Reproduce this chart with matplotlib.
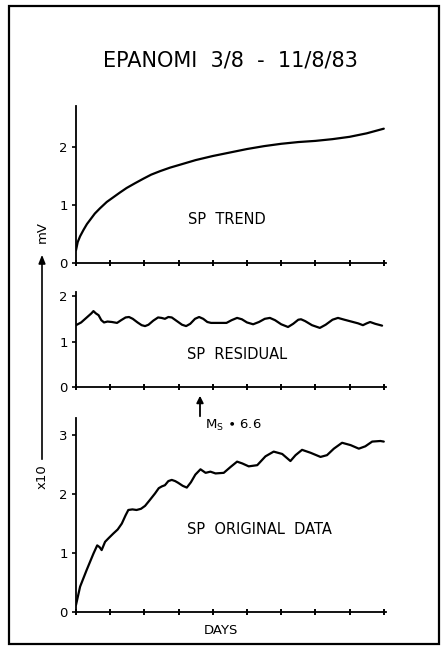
import matplotlib
matplotlib.use("Agg")
import matplotlib.pyplot as plt
from matplotlib.patches import Rectangle, FancyArrowPatch

# ---------------- data ----------------
title_text = "EPANOMI  3/8  -  11/8/83"
day_ticks = [0, 1, 2, 3, 4, 5, 6, 7, 8, 9]

trend_days = [0.0, 0.05, 0.12, 0.22, 0.32, 0.41, 0.55, 0.70, 0.90, 1.09, 1.28,
              1.48, 1.72, 1.97, 2.20, 2.46, 2.75, 3.04, 3.5, 4.0, 4.5, 5.0,
              5.5, 6.0, 6.5, 7.0, 7.5, 8.0, 8.5, 9.0]
trend_vals = [0.22, 0.36, 0.46, 0.57, 0.67, 0.74, 0.85, 0.94, 1.05, 1.13, 1.21,
              1.29, 1.37, 1.45, 1.52, 1.58, 1.64, 1.69, 1.77, 1.84, 1.90, 1.96,
              2.01, 2.05, 2.08, 2.10, 2.13, 2.17, 2.23, 2.31]

resid_days = [0.0, 0.15, 0.30, 0.45, 0.51, 0.58, 0.66, 0.74, 0.82, 0.92, 1.05,
              1.20, 1.32, 1.45, 1.55, 1.66, 1.80, 1.92, 2.02, 2.12, 2.26, 2.40,
              2.50, 2.60, 2.70, 2.80, 2.95, 3.10, 3.22, 3.34, 3.48, 3.60, 3.72,
              3.84, 3.95, 4.20, 4.40, 4.55, 4.71, 4.85, 5.00, 5.18, 5.35, 5.52,
              5.67, 5.82, 6.00, 6.20, 6.35, 6.50, 6.58, 6.70, 6.90, 7.13, 7.30,
              7.50, 7.66, 7.85, 8.10, 8.25, 8.39, 8.50, 8.60, 8.75, 8.95]
resid_vals = [1.36, 1.42, 1.52, 1.62, 1.67, 1.62, 1.58, 1.47, 1.42, 1.44, 1.43,
              1.41, 1.47, 1.53, 1.54, 1.50, 1.42, 1.36, 1.34, 1.37, 1.46, 1.53,
              1.52, 1.50, 1.54, 1.53, 1.45, 1.37, 1.34, 1.39, 1.50, 1.54, 1.50,
              1.43, 1.41, 1.41, 1.41, 1.47, 1.52, 1.49, 1.42, 1.38, 1.43, 1.50,
              1.52, 1.47, 1.38, 1.32, 1.39, 1.48, 1.49, 1.45, 1.36, 1.30, 1.37,
              1.48, 1.52, 1.48, 1.43, 1.40, 1.36, 1.40, 1.43, 1.39, 1.35]

orig_days = [0.0, 0.12, 0.31, 0.51, 0.62, 0.69, 0.75, 0.85, 0.95, 1.09, 1.22,
             1.34, 1.45, 1.53, 1.65, 1.77, 1.90, 2.02, 2.16, 2.31, 2.42, 2.51,
             2.60, 2.70, 2.80, 2.90, 2.99, 3.12, 3.24, 3.36, 3.49, 3.64, 3.79,
             3.93, 4.08, 4.32, 4.52, 4.71, 4.86, 5.05, 5.30, 5.54, 5.78, 6.03,
             6.27, 6.42, 6.61, 6.86, 7.15, 7.34, 7.54, 7.78, 8.03, 8.27, 8.46,
             8.66, 8.90, 9.00]
orig_vals = [0.12, 0.43, 0.71, 0.99, 1.13, 1.10, 1.05, 1.19, 1.25, 1.33, 1.40,
             1.50, 1.64, 1.73, 1.74, 1.73, 1.75, 1.80, 1.90, 2.01, 2.10, 2.13,
             2.15, 2.22, 2.24, 2.22, 2.19, 2.14, 2.11, 2.20, 2.33, 2.42, 2.36,
             2.38, 2.35, 2.36, 2.46, 2.55, 2.52, 2.47, 2.49, 2.64, 2.72, 2.68,
             2.56, 2.66, 2.75, 2.70, 2.63, 2.66, 2.77, 2.87, 2.83, 2.77, 2.81,
             2.89, 2.90, 2.89]

panel_labels = ["SP  TREND", "SP  RESIDUAL", "SP  ORIGINAL  DATA"]
panel_yticks = [[0, 1, 2], [0, 1, 2], [0, 1, 2, 3]]
panel_ylims = [2.7, 2.09, 3.29]

# ---------------- figure ----------------
W, H = 441, 647
fig = plt.figure(figsize=(W / 100, H / 100), dpi=100)
fig.patch.set_facecolor("white")
plt.rcParams["font.family"] = ["DejaVu Sans"]


def fx(x):
    return x / W


def fy(y):
    return 1 - y / H


def add_panel(top_px, bottom_px):
    return fig.add_axes([fx(76), fy(bottom_px), fx(385.5) - fx(76),
                         (bottom_px - top_px) / H])


axes = [add_panel(106, 263), add_panel(292, 387), add_panel(418, 612)]
series = [(trend_days, trend_vals), (resid_days, resid_vals), (orig_days, orig_vals)]
label_pos = [(4.4, 0.75), (4.7, 0.72), (5.35, 1.4)]

for ax, (d, v), lab, yt, ylim, lp in zip(axes, series, panel_labels,
                                         panel_yticks, panel_ylims, label_pos):
    ax.plot(d, v, color="black", lw=1.6, solid_joinstyle="round",
            solid_capstyle="round")
    ax.set_xlim(0, 9.05)
    ax.set_ylim(0, ylim)
    for s in ("top", "right"):
        ax.spines[s].set_visible(False)
    for s in ("left", "bottom"):
        ax.spines[s].set_linewidth(1.3)
    ax.set_xticks(day_ticks)
    ax.set_xticklabels([])
    ax.set_yticks(yt)
    ax.set_yticklabels([str(t) for t in yt])
    ax.tick_params(axis="x", direction="inout", length=4, width=1.4)
    ax.tick_params(axis="y", direction="out", length=3, width=1.2,
                   labelsize=9.5, pad=3)
    ax.set_facecolor("none")
    ax.text(lp[0], lp[1], lab, fontsize=10.5, ha="center", va="center")

# x label
fig.text(fx(221), fy(630), "DAYS", fontsize=9.5, ha="center", va="center")

# title
fig.text(fx(230), fy(60), title_text, fontsize=15, ha="center", va="center")

# earthquake arrow
fig.add_artist(FancyArrowPatch(
    (fx(200), fy(419)), (fx(200), fy(393)), transform=fig.transFigure,
    arrowstyle="-|>,head_length=4,head_width=2", color="black", lw=1.3,
    mutation_scale=1))
fig.text(fx(205), fy(425), r"M$_\mathsf{S}$ $\bullet$ 6.6", fontsize=9.5,
         ha="left", va="center")

# left unit label
fig.add_artist(FancyArrowPatch(
    (fx(42), fy(462)), (fx(42), fy(252)), transform=fig.transFigure,
    arrowstyle="-|>,head_length=5,head_width=2", color="black", lw=1.2,
    mutation_scale=1))
fig.text(fx(42), fy(477), "x10", rotation=90, fontsize=9.5,
         ha="center", va="center")
fig.text(fx(42), fy(232), "mV", rotation=90, fontsize=9.5,
         ha="center", va="center")

# outer frame
fig.add_artist(Rectangle((fx(9), fy(644)), fx(439) - fx(9), fy(6) - fy(644),
                         transform=fig.transFigure, fill=False,
                         edgecolor="black", lw=1.6))

fig.savefig("out.png", dpi=100)
